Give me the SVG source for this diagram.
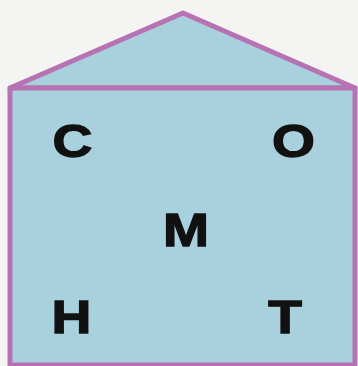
<svg xmlns="http://www.w3.org/2000/svg" width="358" height="366" viewBox="0 0 358 366">
<style>
.shape{fill:#a9d0dd;stroke:#b672b2;stroke-width:5;stroke-linejoin:round}
.lbl{font-family:"Liberation Sans",Arial,sans-serif;font-weight:bold;font-size:46px;fill:#111;stroke:#111;stroke-width:1.3;text-anchor:middle}
</style>
<rect width="358" height="366" fill="#f4f4f2"/>
<g id="house">
<polygon class="shape" points="10,88 183,13 355,88"/>
<rect class="shape" x="10" y="88" width="345" height="277"/>
</g>
<g id="C"><text class="lbl" transform="translate(72.5,157) scale(1.2,1)">С</text></g>
<g id="O"><text class="lbl" transform="translate(293.5,157) scale(1.2,1)">О</text></g>
<g id="M"><text class="lbl" transform="translate(186,246) scale(1.2,1)">М</text></g>
<g id="H"><text class="lbl" transform="translate(71.5,333) scale(1.2,1)">Н</text></g>
<g id="T"><text class="lbl" transform="translate(285,333) scale(1.2,1)">Т</text></g>
</svg>
